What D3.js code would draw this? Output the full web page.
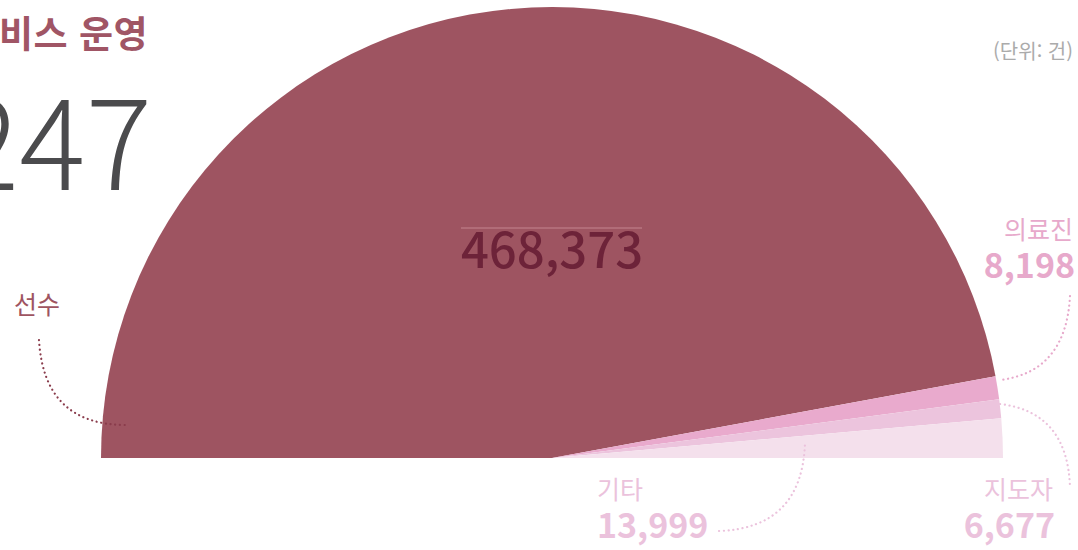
<!DOCTYPE html>
<html lang="ko">
<head>
  <meta charset="UTF-8">
  <title>서비스 운영</title>
  <style>
    body { margin: 0; background: #fff; font-family: "Noto Sans CJK KR", "Noto Sans", sans-serif; }
    svg { display: block; }
  </style>
  <script src="https://cdn.jsdelivr.net/npm/d3@7"></script>
</head>
<body>
  <script>
    var categories = ["선수", "의료진", "지도자", "기타"];
    var values = [468373, 8198, 6677, 13999];
    var colors = ["#9e5461", "#e9aacd", "#ecc4dd", "#f4e0ec"];
    var labelColors = ["#9e5461", "#e7a9cb", "#ebc2dc", "#ebc2dc"];
    var title = "서비스 운영";
    var unit = "(단위: 건)";

    var w = 1078, h = 550;
    var cx = 552, cy = 458, r = 451;
    var fmt = d3.format(",");
    var total = d3.sum(values);

    var svg = d3.select("body").append("svg")
      .attr("width", w)
      .attr("height", h);

    var pie = d3.pie()
      .sort(null)
      .startAngle(-Math.PI / 2)
      .endAngle(Math.PI / 2);

    var arc = d3.arc().innerRadius(0).outerRadius(r);

    var arcs = pie(values);

    svg.append("g")
      .attr("transform", "translate(" + cx + "," + cy + ")")
      .selectAll("path").data(arcs)
      .enter().append("path")
      .attr("d", arc)
      .attr("fill", function(d, i) { return colors[i]; });

    // header (cut off on the left, as in the source layout)
    svg.append("text")
      .attr("x", 148).attr("y", 48)
      .attr("text-anchor", "end")
      .attr("font-size", 37).attr("font-weight", 700)
      .attr("letter-spacing", 0.5)
      .attr("fill", "#a05565")
      .text(title);

    svg.append("text")
      .attr("x", 152).attr("y", 190)
      .attr("text-anchor", "end")
      .attr("font-size", 124).attr("font-weight", 300)
      .attr("fill", "#4b4b4d")
      .text(fmt(total));

    svg.append("text")
      .attr("x", 1073).attr("y", 59)
      .attr("text-anchor", "end")
      .attr("font-size", 20)
      .attr("fill", "#ababab")
      .text(unit);

    // big value in the main slice
    svg.append("line")
      .attr("x1", 461).attr("x2", 642)
      .attr("y1", 228).attr("y2", 228)
      .attr("stroke", "#c48590").attr("stroke-width", 1);

    svg.append("text")
      .attr("x", cx).attr("y", 268)
      .attr("text-anchor", "middle")
      .attr("font-size", 49).attr("font-weight", 500)
      .attr("fill", "#6d2339")
      .text(fmt(values[0]));

    // side labels
    var labels = [
      { i: 0, x: 14, y: 314, anchor: "start", showValue: false },
      { i: 1, x: 1073, y: 239, anchor: "end", showValue: true },
      { i: 2, x: 1053, y: 499, anchor: "end", showValue: true },
      { i: 3, x: 597, y: 499, anchor: "start", showValue: true }
    ];

    labels.forEach(function(l) {
      svg.append("text")
        .attr("x", l.x).attr("y", l.y)
        .attr("text-anchor", l.anchor)
        .attr("font-size", 25)
        .attr("fill", labelColors[l.i])
        .text(categories[l.i]);
      if (l.showValue) {
        svg.append("text")
          .attr("x", l.x + (l.anchor === "end" ? 2 : 0)).attr("y", l.y + 39)
          .attr("text-anchor", l.anchor)
          .attr("font-size", 34).attr("font-weight", 700)
          .attr("fill", labelColors[l.i])
          .text(fmt(values[l.i]));
      }
    });

    // dotted leaders
    var leaders = [
      { i: 0, from: [39, 340], ctrl: [44, 425], to: [126, 425], color: "#8a3c4c" },
      { i: 1, from: [1070, 296], ctrl: [1066, 372], to: [1000, 380], color: "#e7a9cb" },
      { i: 2, from: [1000, 404], ctrl: [1068, 412], to: [1070, 488], color: "#ebc2dc" },
      { i: 3, from: [719, 531], ctrl: [802, 528], to: [805, 443], color: "#ebc2dc" }
    ];

    leaders.forEach(function(l) {
      var p = d3.path();
      p.moveTo(l.from[0], l.from[1]);
      p.quadraticCurveTo(l.ctrl[0], l.ctrl[1], l.to[0], l.to[1]);
      svg.append("path")
        .attr("d", p.toString())
        .attr("fill", "none")
        .attr("stroke", l.color)
        .attr("stroke-width", 2.2)
        .attr("stroke-linecap", "round")
        .attr("stroke-dasharray", "0.1 4.6");
    });
  </script>
</body>
</html>
